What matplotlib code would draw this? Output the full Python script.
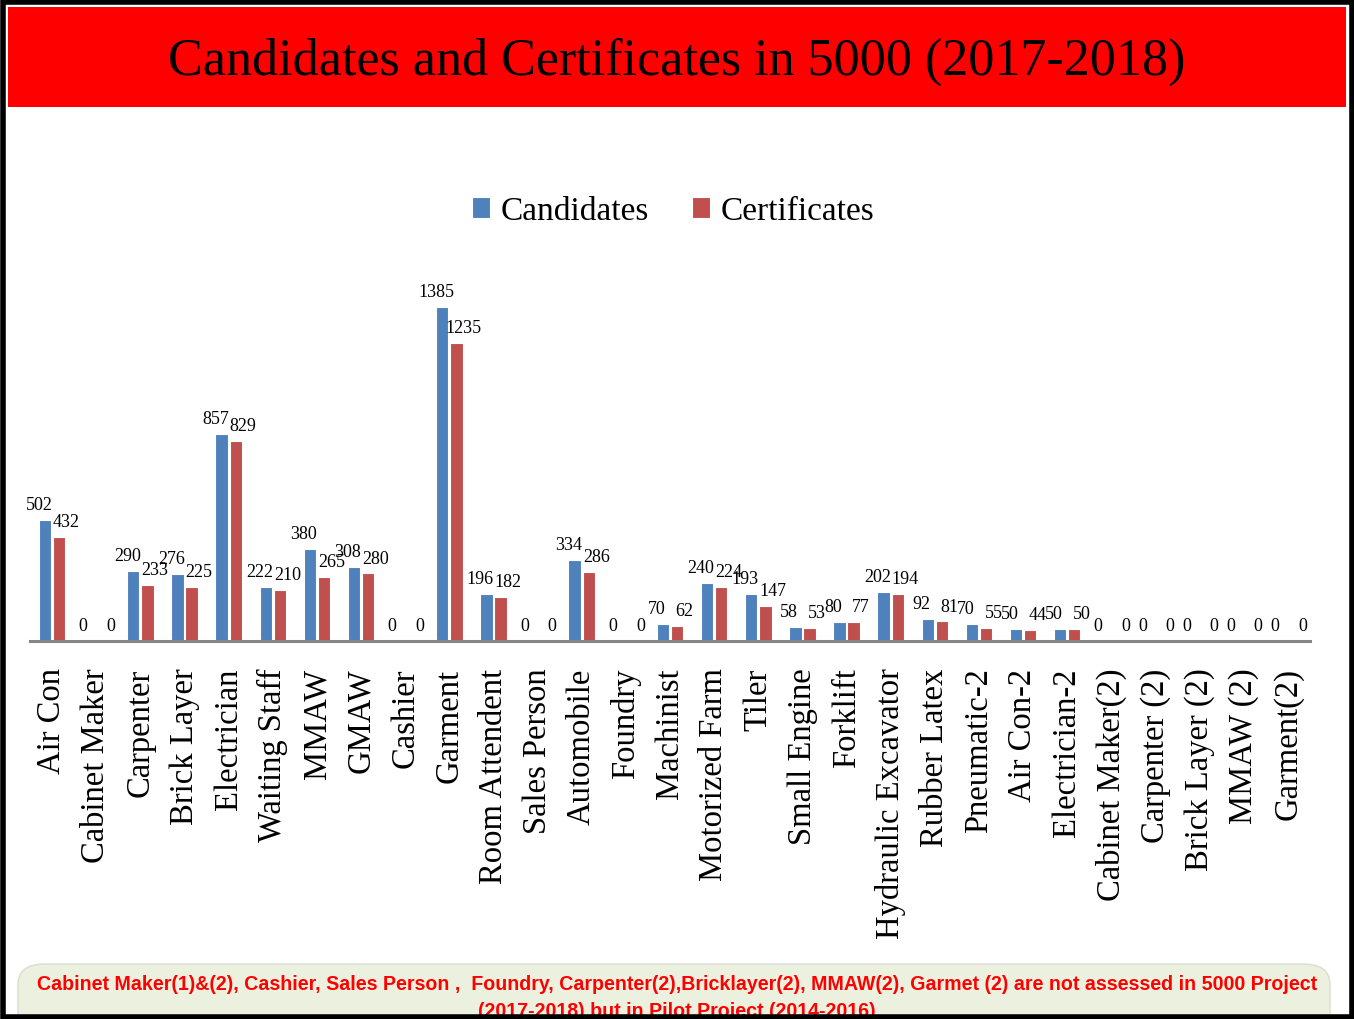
import numpy as np
import matplotlib
matplotlib.use("Agg")
import matplotlib.pyplot as plt
from matplotlib.patches import Rectangle, FancyBboxPatch

categories = ["Air Con", "Cabinet Maker", "Carpenter", "Brick Layer", "Electrician",
              "Waiting Staff", "MMAW", "GMAW", "Cashier", "Garment", "Room Attendent",
              "Sales Person", "Automobile", "Foundry", "Machinist", "Motorized Farm",
              "Tiler", "Small Engine", "Forklift", "Hydraulic Excavator", "Rubber Latex",
              "Pneumatic-2", "Air Con-2", "Electrician-2", "Cabinet Maker(2)",
              "Carpenter (2)", "Brick Layer (2)", "MMAW (2)", "Garment(2)"]
candidates = [502, 0, 290, 276, 857, 222, 380, 308, 0, 1385, 196, 0, 334, 0, 70,
              240, 193, 58, 80, 202, 92, 70, 50, 50, 0, 0, 0, 0, 0]
certificates = [432, 0, 233, 225, 829, 210, 265, 280, 0, 1235, 182, 0, 286, 0, 62,
                224, 147, 53, 77, 194, 81, 55, 44, 50, 0, 0, 0, 0, 0]

title = "Candidates and Certificates in 5000 (2017-2018)"
note = ("Cabinet Maker(1)&(2), Cashier, Sales Person ,  Foundry, Carpenter(2),Bricklayer(2), "
        "MMAW(2), Garmet (2) are not assessed in 5000 Project\n(2017-2018) but in Pilot Project (2014-2016)")

blue = "#4F81BD"
red = "#C0504D"
serif = ["Liberation Serif", "DejaVu Serif"]

W, H = 1354, 1020
fig = plt.figure(figsize=(W / 100, H / 100), dpi=100)

# title band
fig.patches.append(Rectangle((8 / W, 1 - 108 / H), (W - 16) / W, 100 / H,
                             transform=fig.transFigure, facecolor="#FF0000",
                             edgecolor="none", zorder=0))
fig.text(0.5, 1 - 62 / H, title, ha="center", va="center", fontsize=37.5,
         family=serif, color="black")

ax = fig.add_axes([30 / W, 378 / H, 1280 / W, 386 / H])
x = np.arange(len(categories))
bw = 0.28
ax.bar(x - bw / 2 - 0.02, candidates, bw, color=blue, edgecolor="white",
       linewidth=0.8, label="Candidates")
ax.bar(x + bw / 2 + 0.02, certificates, bw, color=red, edgecolor="white",
       linewidth=0.8, label="Certificates")

for i in range(len(categories)):
    ax.annotate(str(candidates[i]), (x[i] - bw / 2, candidates[i]),
                xytext=(-5, 5), textcoords="offset points", ha="center",
                va="bottom", fontsize=13, family=serif)
    ax.annotate(str(certificates[i]), (x[i] + bw / 2, certificates[i]),
                xytext=(6, 5), textcoords="offset points", ha="center",
                va="bottom", fontsize=13, family=serif)

ax.set_xlim(-0.5, len(categories) - 0.5)
ax.set_ylim(0, 1600)
ax.set_yticks([])
ax.set_xticks(x)
ax.set_xticklabels(categories, rotation=90, fontsize=23.5, family=serif)
ax.tick_params(axis="x", length=0, pad=19)
for s in ["top", "right", "left"]:
    ax.spines[s].set_visible(False)
ax.spines["bottom"].set_color("#868686")
ax.spines["bottom"].set_linewidth(2.2)

fig.legend(loc="center", bbox_to_anchor=(0.497, 1 - 212 / H), ncol=2,
           frameon=False, prop={"family": serif, "size": 24},
           handlelength=0.55, handleheight=0.55, handletextpad=0.3,
           columnspacing=1.3)

# footer note
fig.patches.append(FancyBboxPatch((18 / W, 1 - 1040 / H), 1312 / W, 75 / H,
                                  boxstyle="round,pad=0,rounding_size=0.02",
                                  transform=fig.transFigure, facecolor="#EBF1DE",
                                  edgecolor="#D8DDD0", linewidth=1, zorder=0))
fig.text(0.5, 1 - 998 / H, note, ha="center", va="center", fontsize=14.1,
         fontweight="bold", color="#FF0000", linespacing=1.55,
         family=["Liberation Sans Narrow", "Liberation Sans", "DejaVu Sans"])

# outer frame
fig.patches.append(Rectangle((2.5 / W, 2.5 / H), (W - 5) / W, (H - 5) / H,
                             transform=fig.transFigure, facecolor="none",
                             edgecolor="black", linewidth=4, zorder=10))

fig.savefig("out.png", dpi=100)
